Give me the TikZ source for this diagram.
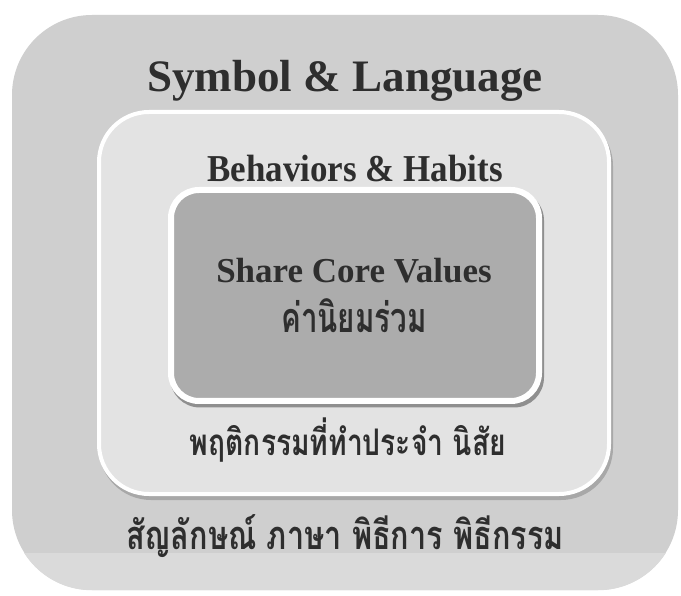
\documentclass[tikz,border=0pt]{standalone}
\usepackage{fontspec}
\setmainfont{Liberation Serif}
\newfontfamily\thaifont[Script=Thai]{Loma}
\usepackage{tikz}
\definecolor{textColor}{HTML}{2E2E2E}
\definecolor{outerGray}{HTML}{CFCFCF}
\definecolor{outerLight}{HTML}{DADADA}
\definecolor{midGray}{HTML}{E3E3E3}
\definecolor{coreGray}{HTML}{ACACAC}
\definecolor{shadowGray}{HTML}{A8A8A8}

\begin{document}
\begin{tikzpicture}[x=1pt,y=-1pt,
outerBox/.style={shape=rectangle,rounded corners=80pt,fill=outerGray,inner sep=0,
    minimum width=666pt,minimum height=575pt},
midBox/.style={shape=rectangle,rounded corners=50pt,fill=midGray,draw=white,line width=4pt,
    inner sep=0,minimum width=510pt,minimum height=382pt},
coreBox/.style={shape=rectangle,rounded corners=28pt,fill=coreGray,draw=white,line width=6pt,
    inner sep=0,minimum width=368pt,minimum height=211pt},
boxShadow/.style={shape=rectangle,fill=shadowGray,inner sep=0},
title/.style={anchor=base,text=textColor},
thaiText/.style={anchor=base,text=textColor}
]
\fill[white] (0,0) rectangle (681,596);
\useasboundingbox (0,0) rectangle (681,596);
% outer layer
\node[outerBox] (symbol) at (345,302.5) {};
\begin{scope}
\clip[rounded corners=80pt] (symbol.north west) rectangle (symbol.south east);
\fill[outerLight] (0,553) rectangle (681,596);
\end{scope}
% middle layer
\node[boxShadow,rounded corners=52pt,minimum width=514pt,minimum height=386pt] (midShadow) at (356,307) {};
\node[midBox] (habits) at (354,303) {};
% core layer
\node[boxShadow,fill=shadowGray!85!black,rounded corners=30pt,minimum width=374pt,minimum height=217pt] (coreShadow) at (357,299) {};
\node[coreBox] (values) at (355,295.5) {};
% labels
\node[title,font=\bfseries\fontsize{45}{50}\selectfont] (symbolEn) at (345,92) {Symbol \& Language};
\node[title,font=\bfseries\fontsize{38}{42}\selectfont] (habitsEn) at (355,182) {\scalebox{0.92}[1]{Behaviors \& Habits}};
\node[title,font=\bfseries\fontsize{35}{38}\selectfont] (valuesEn) at (354,283) {Share Core Values};
\node[thaiText,font=\thaifont\bfseries\fontsize{29.5}{34}\selectfont] (valuesTh) at (354,333) {\scalebox{1}[1.4]{ค่านิยมร่วม}};
\node[thaiText,font=\thaifont\bfseries\fontsize{28.2}{32}\selectfont] (habitsTh) at (348,455) {\scalebox{1}[1.3]{พฤติกรรมที่ทำประจำ นิสัย}};
\node[thaiText,font=\thaifont\bfseries\fontsize{30.6}{34}\selectfont] (symbolTh) at (345,549) {\scalebox{1}[1.3]{สัญลักษณ์ ภาษา พิธีการ พิธีกรรม}};
\end{tikzpicture}
\end{document}
